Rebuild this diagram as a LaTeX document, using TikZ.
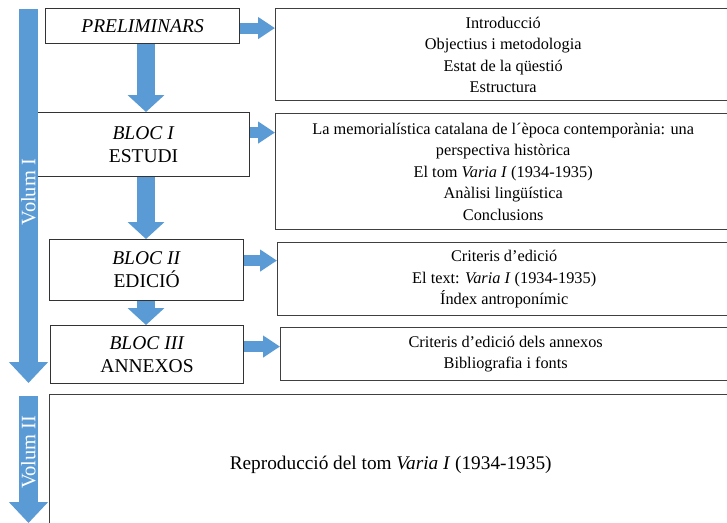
\documentclass[tikz,border=0pt]{standalone}
\usepackage{fontspec}
\setmainfont{Liberation Serif}
\usetikzlibrary{arrows.meta}
\definecolor{volblue}{HTML}{5B9BD5}
\tikzset{
	lbox/.style={draw=black!80,line width=1.1pt,align=center,inner sep=0pt,anchor=north west,font=\fontsize{19.5}{23}\selectfont},
	rbox/.style={draw=black!75,line width=1.4pt,align=center,inner sep=0pt,anchor=north west},
	downarrow/.style={volblue,line width=18pt,-{Triangle[length=17pt,width=36pt]}},
	rarrow/.style={volblue,line width=11pt,-{Triangle[length=17pt,width=21pt]}},
	volarrow/.style={volblue,line width=19pt,-{Triangle[length=21pt,width=38pt]}},
	voltxt/.style={white,rotate=90,font=\fontsize{20.5}{21}\selectfont},
	txt/.style={font=\fontsize{16.3}{21.5}\selectfont}
}

\begin{document}
\begin{tikzpicture}[x=1pt,y=-1pt,txt]
	\useasboundingbox (0,0) rectangle (727,522);
	% left column
	\node[lbox,minimum width=194pt,minimum height=35pt] (prel) at (45,8) {\textit{PRELIMINARS}};
	\node[lbox,minimum width=212pt,minimum height=64pt] (bloc1) at (37,112) {\textit{BLOC I}\\ESTUDI};
	\node[lbox,minimum width=194pt,minimum height=61pt] (bloc2) at (49,239) {\textit{BLOC II}\\EDICIÓ};
	\node[lbox,minimum width=193pt,minimum height=58pt] (bloc3) at (50,325) {\textit{BLOC III}\\ANNEXOS};
	% right column
	\node[rbox,minimum width=455pt,minimum height=92pt] (intro) at (275,8)
		{Introducció\\Objectius i metodologia\\Estat de la qüestió\\Estructura};
	\node[rbox,minimum width=455pt,minimum height=116pt] (estudi) at (275,113)
		{La memorialística catalana de l´època contemporània: una\\perspectiva històrica\\El tom \textit{Varia I} (1934-1935)\\Anàlisi lingüística\\Conclusions};
	\node[rbox,minimum width=453pt,minimum height=73pt] (edicio) at (277,242)
		{Criteris d’edició\\El text: \textit{Varia I} (1934-1935)\\Índex antroponímic};
	\node[rbox,minimum width=450pt,minimum height=53pt] (annex) at (280,327)
		{Criteris d’edició dels annexos\\Bibliografia i fonts};
	\node[rbox,minimum width=682pt,minimum height=140pt,font=\fontsize{19.3}{23}\selectfont] (repro) at (49,394)
		{Reproducció del tom \textit{Varia I} (1934-1935)};
	% arrows between blocks
	\coordinate (axis) at (146,0);
	\draw[downarrow] (prel.south -| axis) -- (bloc1.north -| axis);
	\draw[downarrow] (bloc1.south -| axis) -- (bloc2.north -| axis);
	\draw[downarrow] (bloc2.south -| axis) -- (bloc3.north -| axis);
	\draw[rarrow] ([yshift=-2pt]prel.east) -- ([yshift=-2pt]prel.east -| intro.west);
	\draw[rarrow] ([yshift=12pt]bloc1.east) -- ([yshift=12pt]bloc1.east -| estudi.west);
	\draw[rarrow] ([yshift=9.5pt]bloc2.east) -- ([yshift=9.5pt]bloc2.east -| edicio.west);
	\draw[rarrow] ([yshift=8pt]bloc3.east) -- ([yshift=8pt]bloc3.east -| annex.west);
	% volumes
	\coordinate (v1top) at (28.5,9);
	\coordinate (v1end) at (28.5,383);
	\coordinate (v2top) at (28.5,396);
	\coordinate (v2end) at (28.5,523);
	\draw[volarrow] (v1top) -- (v1end);
	\draw[volarrow] (v2top) -- (v2end);
	\node[voltxt] (vol1) at (28.5,192) {Volum I};
	\node[voltxt] (vol2) at (28.5,452) {Volum II};
\end{tikzpicture}
\end{document}
